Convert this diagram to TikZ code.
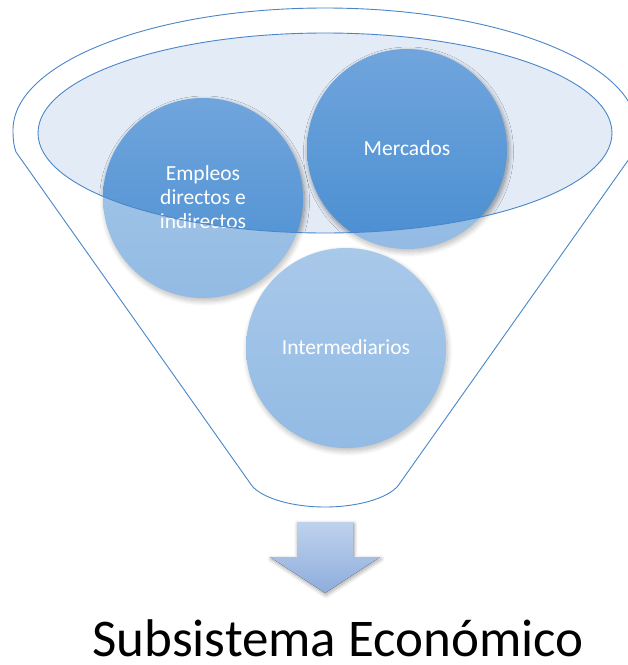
\documentclass[tikz,border=0pt]{standalone}
\usepackage{fontspec}
\setmainfont{Carlito}
\usetikzlibrary{shadows.blur}
\definecolor{lineblue}{HTML}{4A86C8}
\definecolor{ellfill}{HTML}{E3EBF6}
\definecolor{circtop}{HTML}{70A5DC}
\definecolor{circbot}{HTML}{4A8ED2}
\definecolor{arrtop}{HTML}{BFD2EE}
\definecolor{arrbot}{HTML}{8DADDB}
\tikzset{
  bubble/.style={circle, minimum size=200pt, inner sep=0pt, top color=circtop, bottom color=circbot,
    blur shadow={shadow xshift=1.5pt, shadow yshift=-3pt, shadow blur steps=10, shadow blur radius=5pt, shadow opacity=45}},
  bubbletext/.style={text=white, font=\fontsize{21.5}{24}\selectfont, align=center},
  outline/.style={draw=lineblue, line width=0.9pt}
}
\begin{document}
\begin{tikzpicture}[x=1pt,y=-1pt]
\useasboundingbox (0,0) rectangle (628,665);
% inner ellipse fill
\fill[ellfill] (325,133) ellipse [x radius=287, y radius=100];
% bubbles
\node[bubble] (emp) at (203,198) {};
\node[bubble] (mer) at (407,149) {};
\node[bubble] (int) at (346,348) {};
\node[bubbletext] (empt) at (203,197) {Empleos\\directos e\\indirectos};
\node[bubbletext] (mert) at (407,148) {Mercados};
\node[bubbletext] (intt) at (346,347) {Intermediarios};
% white veil over funnel body outside ellipse
\fill[white, fill opacity=0.4, even odd rule] (0,0) rectangle (628,520) (325,133) ellipse [x radius=287, y radius=100];
% inner ellipse outline
\draw[outline] (325,133) ellipse [x radius=287, y radius=100];
% funnel outline
\draw[outline] (16,152) .. controls (14,147) and (13,140) .. (13,130)
  .. controls (13,62.6) and (152.7,8) .. (325,8)
  .. controls (497.3,8) and (637,62.6) .. (637,130)
  .. controls (637,140) and (636,147) .. (634,152)
  -- (400,483)
  .. controls (392,497) and (360,507) .. (325,507)
  .. controls (290,507) and (258,497) .. (250,483) -- cycle;
% arrow
\fill[top color=arrtop, bottom color=arrbot,
  blur shadow={shadow xshift=1pt, shadow yshift=-2pt, shadow blur steps=8, shadow blur radius=4pt, shadow opacity=35}]
  (297,522) -- (353,522) -- (353,557) -- (380,557) -- (325,593) -- (270,557) -- (297,557) -- cycle;
% caption
\node[font=\fontsize{53}{56}\selectfont, anchor=base, inner sep=0pt] (cap) at (338,656) {Subsistema Económico};
\end{tikzpicture}
\end{document}
